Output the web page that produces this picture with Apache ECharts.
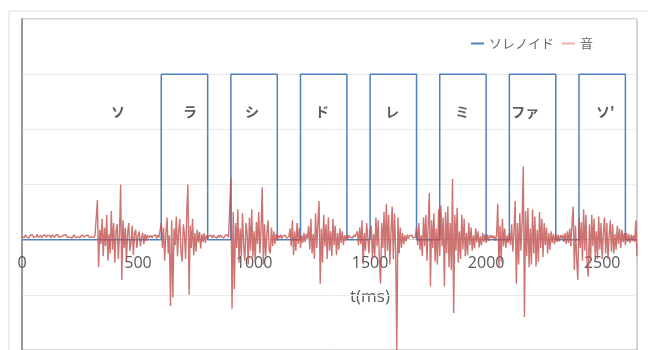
<!DOCTYPE html>
<html>
<head>
<meta charset="utf-8">
<script src="https://cdn.jsdelivr.net/npm/echarts@6/dist/echarts.min.js"></script>
<style>
html,body{margin:0;padding:0;background:#fff;}
#c{width:648px;height:350px;}
</style>
</head>
<body>
<div id="c"></div>
<script>
// time axis (ms)
const X_MIN = 0, X_MAX = 2650, X_STEP = 500;
const xTicks = [0, 500, 1000, 1500, 2000, 2500];

// solenoid pulses (ms): on / off, level in chart units
const solenoidOn  = [600, 900, 1200, 1500, 1800, 2100, 2400];
const solenoidOff = [800, 1100, 1400, 1700, 2000, 2300, 2600];
const solenoidHigh = 300;

// note labels
const noteNames = ['ソ', 'ラ', 'シ', 'ド', 'レ', 'ミ', 'ファ', "ソ'"];
const noteTimes = [414, 724, 991, 1293, 1595, 1897, 2168, 2513];
const noteLevel = 232;

// sound waveform, sampled every 5 ms starting at 0 ms (chart units)
const soundStep = 5;
const soundValues = [
  5,8,4,9,5,7,3,8,6,9,
  4,7,5,10,4,6,8,3,7,5,
  9,4,8,5,7,3,9,6,4,8,
  5,9,4,7,6,3,8,5,9,4,
  7,5,8,3,6,9,4,7,5,8,
  4,6,9,5,3,7,5,8,4,6,
  5,8,4,9,6,72,-50,18,-8,38,
  -30,22,-12,45,-38,10,-25,52,-18,30,
  -42,15,28,-35,8,100,-73,35,-15,22,
  -38,12,30,-20,-5,25,-28,10,18,-15,
  8,15,-12,4,12,-8,10,-2,9,3,
  6,8,3,7,4,9,2,8,4,6,
  30,-15,22,-38,12,40,-25,8,-120,35,
  -105,20,-10,42,-30,15,38,-22,-40,28,
  10,-35,50,100,-100,25,-15,38,-28,12,
  -22,18,-5,14,-16,10,-4,12,-6,8,
  2,7,4,8,3,9,5,7,3,8,
  4,9,5,7,3,8,6,9,4,7,
  113,-125,50,-90,30,-15,55,-42,20,-30,
  48,-10,-38,30,12,-45,40,-20,55,-32,
  15,-40,32,-8,50,-25,20,95,-45,28,
  -30,10,35,-18,-25,22,-12,15,-8,10,
  -2,8,3,9,2,7,4,8,3,6,
  5,20,-12,35,-28,15,-20,30,-8,22,
  -15,8,-6,12,-4,10,2,25,-18,38,
  -25,10,-35,48,-15,30,70,-80,20,-42,
  45,-12,28,-35,40,-20,15,-30,38,-10,
  25,-28,12,-18,20,-6,15,-10,8,-2,
  9,2,8,4,7,3,9,5,8,15,
  -10,22,-8,35,-45,12,-20,30,5,-25,
  18,25,-35,10,-30,40,-12,35,-40,-80,
  30,-15,50,-32,65,-20,45,-45,15,60,
  -35,48,-18,-200,40,-25,22,-15,12,-8,
  8,-3,9,2,7,4,8,3,6,5,
  22,-10,30,-18,8,-30,40,-12,45,-38,
  25,85,-85,35,-15,48,-40,20,-45,55,
  -30,62,-12,40,-85,50,-25,60,-50,30,
  -55,110,-133,45,-20,58,-42,15,-35,45,
  -18,38,-30,12,-28,30,-10,22,-20,8,
  -16,20,-5,15,-14,6,-10,12,-4,10,
  -6,9,-2,8,3,8,2,7,-2,9,
  65,-50,25,-40,38,-12,20,-15,8,-6,
  12,-10,28,-22,15,70,-80,30,-45,48,
  -20,35,133,-140,52,-30,58,-50,20,-45,
  55,-25,42,-48,18,-40,50,-15,38,-32,
  30,-10,22,-25,12,-18,15,-6,10,-8,
  10,-4,9,-3,8,2,9,-4,12,-8,
  15,-6,20,-12,30,60,-55,25,-35,-73,
  40,-15,32,-38,55,-20,45,-42,-67,28,
  -40,45,-12,38,-30,15,-35,42,-18,30,
  -35,12,40,-25,30,-35,8,35,-22,28,
  -25,10,-18,25,-8,20,-15,18,-5,12,
  -10,12,-4,10,-6,9,-2,8,-4,35,
  -30
];

const Y_MIN = -200, Y_MAX = 400, Y_STEP = 100;

// layout
const GRID_TOP = 19, GRID_BOTTOM = 0, CHART_H = 350;
const gridH = CHART_H - GRID_TOP - GRID_BOTTOM;
const zeroOffset = -gridH * (0 - Y_MIN) / (Y_MAX - Y_MIN);

// build series data
const solenoidData = [[X_MIN, 0]];
for (let k = 0; k < solenoidOn.length; k++) {
  solenoidData.push([solenoidOn[k], 0], [solenoidOn[k], solenoidHigh],
                    [solenoidOff[k], solenoidHigh], [solenoidOff[k], 0]);
}
solenoidData.push([X_MAX, 0]);
const soundData = soundValues.map((v, i) => [i * soundStep, v]);
const noteData = noteNames.map((n, i) => [noteTimes[i], noteLevel, n]);

const chart = echarts.init(document.getElementById('c'), null, {renderer: 'canvas'});
chart.setOption({
  animation: false,
  backgroundColor: '#fff',
  grid: {left: 22, right: 11, top: GRID_TOP, bottom: GRID_BOTTOM, containLabel: false, outerBoundsMode: 'none',
         show: true, borderColor: '#a6a6a6', borderWidth: 1, backgroundColor: 'transparent'},
  legend: {
    right: 50, top: 32,
    itemWidth: 13, itemHeight: 2, itemGap: 8,
    icon: 'rect',
    textStyle: {fontFamily: 'Noto Sans CJK JP', fontSize: 13, color: '#6b6b6b'},
    data: [
      {name: 'ソレノイド', itemStyle: {color: '#4f81bd'}},
      {name: '音', itemStyle: {color: '#eab0ae'}}
    ]
  },
  xAxis: {
    type: 'value', min: X_MIN, max: X_MAX, interval: X_STEP,
    position: 'bottom', offset: zeroOffset,
    axisLine: {show: true, onZero: false, lineStyle: {color: '#d9d9d9'}},
    axisTick: {show: false},
    splitLine: {show: false},
    axisLabel: {
      show: true, margin: 16, showMaxLabel: false, hideOverlap: false,
      fontFamily: 'Open Sans', fontSize: 16, color: '#595959',
      formatter: v => xTicks.indexOf(v) >= 0 ? String(v) : ''
    }
  },
  yAxis: {
    type: 'value', min: Y_MIN, max: Y_MAX, interval: Y_STEP,
    axisLine: {show: true, onZero: false, lineStyle: {color: '#999', width: 2}},
    axisTick: {show: false},
    axisLabel: {show: false},
    splitLine: {show: true, lineStyle: {color: '#ececec', width: 1}}
  },
  graphic: [
    {type: 'rect', shape: {x: 9, y: 11, width: 700, height: 400}, style: {fill: 'none', stroke: '#dcdcdc', lineWidth: 1}, silent: true, z: -1},
    {type: 'text', x: 370, y: 297, style: {text: 't(ms)', fontFamily: 'Open Sans', fontSize: 17, fill: '#595959', align: 'center', verticalAlign: 'middle'}}
  ],
  series: [
    {
      name: 'ソレノイド', type: 'line', data: solenoidData,
      showSymbol: false, symbol: 'none',
      lineStyle: {color: '#4f81bd', width: 1.5},
      itemStyle: {color: '#4f81bd'}, z: 2
    },
    {
      name: '音', type: 'line', data: soundData,
      showSymbol: false, symbol: 'none', sampling: null,
      lineStyle: {color: '#c0504d', width: 1.4, opacity: 0.8},
      itemStyle: {color: '#c0504d'}, z: 3
    },
    {
      name: 'notes', type: 'scatter', data: noteData,
      symbolSize: 0, silent: true,
      label: {show: true, position: 'inside', formatter: p => p.data[2],
              fontFamily: 'Noto Sans CJK JP', fontSize: 14, fontWeight: 'bold', color: '#333'},
      z: 4
    }
  ]
});
</script>
</body>
</html>
